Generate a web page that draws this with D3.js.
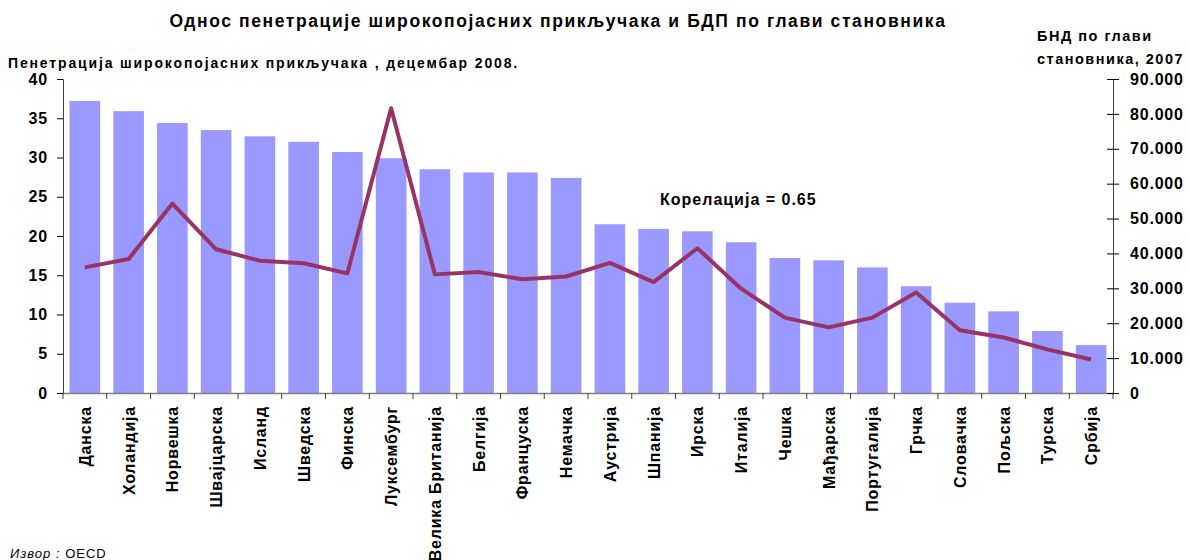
<!DOCTYPE html>
<html>
<head>
<meta charset="utf-8">
<script src="https://cdn.jsdelivr.net/npm/d3@7"></script>
<style>
  body { margin: 0; background: #fff; }
  svg { font-family: "Liberation Sans", Arial, sans-serif; }
</style>
</head>
<body>
<svg id="chart" width="1190" height="560"></svg>
<script>
// countries, broadband penetration (Dec 2008) and GNI per capita (2007)
const countries = ["Данска", "Холандија", "Норвешка", "Швајцарска", "Исланд", "Шведска", "Финска",
  "Луксембург", "Велика Британија", "Белгија", "Француска", "Немачка", "Аустрија", "Шпанија",
  "Ирска", "Италија", "Чешка", "Мађарска", "Португалија", "Грчка", "Словачка", "Пољска", "Турска", "Србија"];
const penetration = [37.2, 35.9, 34.4, 33.5, 32.7, 32.0, 30.7, 29.9, 28.5, 28.1, 28.1, 27.4,
  21.5, 20.9, 20.6, 19.2, 17.2, 16.9, 16.0, 13.6, 11.5, 10.4, 7.9, 6.1];
const gni = [36000, 38400, 54300, 41200, 37900, 37200, 34300, 81600, 34000, 34700, 32600, 33400,
  37300, 31800, 41500, 29900, 21600, 18800, 21600, 28800, 18000, 15900, 12500, 9600];
const leftTicks = [0, 5, 10, 15, 20, 25, 30, 35, 40];
const rightTicks = [0, 10000, 20000, 30000, 40000, 50000, 60000, 70000, 80000, 90000];

const svg = d3.select("#chart");
const plotL = 63, plotR = 1113, plotT = 79, plotB = 393;

const x = d3.scaleBand().domain(countries).range([plotL, plotR]).paddingInner(0.3).paddingOuter(0.15);
const yL = d3.scaleLinear().domain([0, 40]).range([plotB, plotT]);
const yR = d3.scaleLinear().domain([0, 90000]).range([plotB, plotT]);

// bars
svg.append("g").selectAll("rect")
  .data(countries)
  .join("rect")
  .attr("x", d => x(d))
  .attr("width", x.bandwidth())
  .attr("y", (d, i) => yL(penetration[i]))
  .attr("height", (d, i) => plotB - yL(penetration[i]))
  .attr("fill", "#9999ff");

// x axis
const band = (plotR - plotL) / countries.length;
const xg = svg.append("g");
xg.append("line").attr("x1", plotL).attr("x2", plotR).attr("y1", plotB + 0.5).attr("y2", plotB + 0.5)
  .attr("stroke", "#808080").attr("stroke-width", 1.5);
xg.selectAll("line.t").data(d3.range(countries.length + 1)).join("line")
  .attr("class", "t")
  .attr("x1", i => plotL + i * band).attr("x2", i => plotL + i * band)
  .attr("y1", plotB).attr("y2", plotB + 6)
  .attr("stroke", "#404040");
xg.selectAll("text").data(countries).join("text")
  .attr("transform", d => `translate(${x(d) + x.bandwidth() / 2 + 6},${plotB + 13}) rotate(-90)`)
  .attr("text-anchor", "end")
  .attr("font-size", 16).attr("font-weight", "bold").attr("letter-spacing", 0.8)
  .text(d => d);

// left axis
const gl = svg.append("g").attr("transform", `translate(${plotL},0)`)
  .call(d3.axisLeft(yL).tickValues(leftTicks).tickSize(6).tickPadding(9));
gl.select(".domain").attr("stroke", "#404040");
gl.selectAll("text").attr("font-size", 16).attr("font-weight", "bold").attr("letter-spacing", 0.8)
  .attr("font-family", "Liberation Sans, Arial, sans-serif").attr("fill", "#000");

// right axis (ticks cross the axis line)
const gr = svg.append("g").attr("transform", `translate(${plotR},0)`)
  .call(d3.axisRight(yR).tickValues(rightTicks).tickSize(6).tickPadding(11)
    .tickFormat(d => d === 0 ? "0" : d3.format(",")(d).replace(/,/g, ".")));
gr.select(".domain").attr("stroke", "#404040");
gr.selectAll(".tick line").attr("x1", -6);
gr.selectAll("text").attr("font-size", 16).attr("font-weight", "bold").attr("letter-spacing", 0.8)
  .attr("font-family", "Liberation Sans, Arial, sans-serif").attr("fill", "#000");

// GNI line
const line = d3.line()
  .x((d, i) => x(countries[i]) + x.bandwidth() / 2)
  .y(d => yR(d));
svg.append("path").datum(gni)
  .attr("d", line)
  .attr("fill", "none")
  .attr("stroke", "#993366")
  .attr("stroke-width", 4)
  .attr("stroke-linejoin", "round");

// texts
svg.append("text").attr("x", 558).attr("y", 27).attr("text-anchor", "middle")
  .attr("font-size", 17.5).attr("font-weight", "bold").attr("letter-spacing", 1.6)
  .text("Однос пенетрације широкопојасних прикључака и БДП по глави становника");
svg.append("text").attr("x", 8).attr("y", 68)
  .attr("font-size", 14).attr("font-weight", "bold").attr("letter-spacing", 1.85)
  .text("Пенетрација широкопојасних прикључака , децембар 2008.");
svg.append("text").attr("x", 1037).attr("y", 41)
  .attr("font-size", 14.5).attr("font-weight", "bold").attr("letter-spacing", 1.5).text("БНД по глави");
svg.append("text").attr("x", 1037).attr("y", 64)
  .attr("font-size", 14.5).attr("font-weight", "bold").attr("letter-spacing", 1.5).text("становника, 2007");
svg.append("text").attr("x", 660).attr("y", 205)
  .attr("font-size", 16).attr("font-weight", "bold").attr("letter-spacing", 1).text("Корелација = 0.65");
svg.append("text").attr("x", 10).attr("y", 558)
  .attr("font-size", 13).attr("font-style", "italic").attr("letter-spacing", 1).text("Извор :")
  .append("tspan").attr("font-style", "normal").text(" OECD");
</script>
</body>
</html>
